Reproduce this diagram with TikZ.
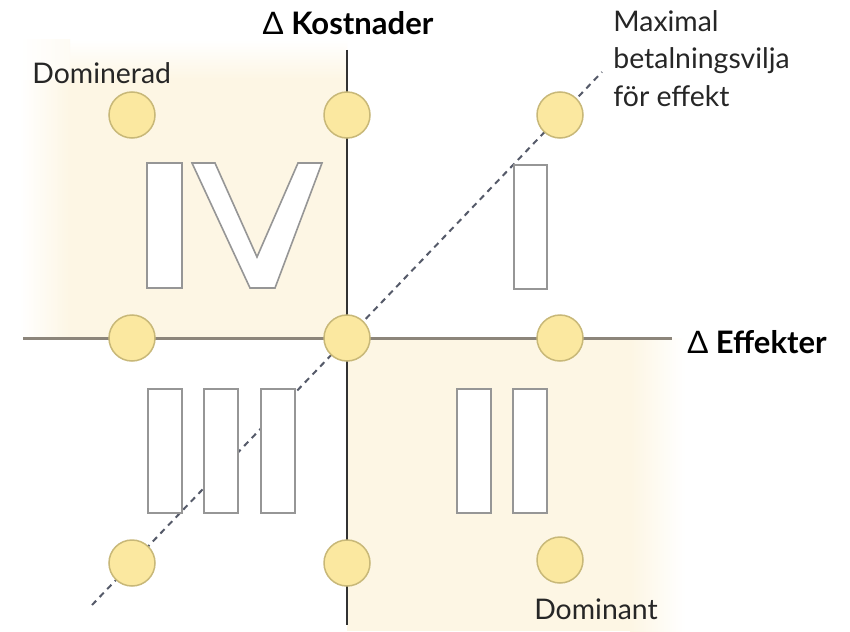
\documentclass[tikz,border=0pt]{standalone}
\usepackage{fontspec}
\setmainfont{Lato}
\definecolor{cream}{RGB}{253,246,228}
\definecolor{dotfill}{RGB}{251,232,160}
\definecolor{dotedge}{RGB}{200,184,120}
\definecolor{hax}{RGB}{140,133,122}
\definecolor{vax}{RGB}{50,50,50}
\definecolor{numedge}{RGB}{150,150,150}
\definecolor{dashcol}{RGB}{85,90,105}
\begin{document}
\begin{tikzpicture}[x=0.5pt,y=-0.5pt,
  dot/.style={circle,draw=dotedge,fill=dotfill,line width=0.75pt,minimum size=23pt,inner sep=0pt},
  numeral/.style={draw=numedge,fill=white,line width=0.8pt},
  lbl/.style={font=\fontsize{14.2}{18.75}\selectfont,text=black!85,inner sep=0pt},
  axlbl/.style={font=\fontsize{15.5}{19}\selectfont\bfseries,text=black,inner sep=0pt}]
\useasboundingbox (0,0) rectangle (850,631);
\fill[white] (0,0) rectangle (850,631);
% shaded quadrant IV
\fill[cream] (70,80) rectangle (347,338);
\shade[left color=white,right color=cream] (20,80) rectangle (70,338);
\shade[top color=white,bottom color=cream] (70,40) rectangle (347,80);
\shade[left color=white,right color=cream!40] (20,40) rectangle (70,80);
% shaded quadrant II
\fill[cream] (347,338) rectangle (630,631);
\shade[left color=cream,right color=white] (630,338) rectangle (685,631);
% axes
\coordinate (hl) at (23,338);
\coordinate (hr) at (672,338);
\coordinate (vt) at (347,50);
\coordinate (vb) at (347,625);
\draw[hax,line width=1.5pt] (hl) -- (hr);
\draw[vax,line width=0.9pt] (vt) -- (vb);
% dashed willingness-to-pay line
\coordinate (dA) at (92,605);
\coordinate (dB) at (602,72);
\draw[dashcol,line width=1pt,dash pattern=on 3pt off 2.5pt] (dA) -- (dB);
% numerals
\draw[numeral] (147,163) rectangle (182,288);
\draw[numeral] (192,163) -- (215,163) -- (257,257) -- (298,163) -- (322,163) -- (275,288) -- (250,288) -- cycle;
\draw[numeral] (514,165) rectangle (547,289);
\draw[numeral] (148,389) rectangle (182,513);
\draw[numeral] (204,389) rectangle (238,513);
\draw[numeral] (261,389) rectangle (295,513);
\draw[numeral] (457,389) rectangle (491,513);
\draw[numeral] (513,389) rectangle (547,513);
% dots
\node[dot] (p11) at (132,115) {};
\node[dot] (p12) at (347,115) {};
\node[dot] (p13) at (560,115) {};
\node[dot] (p21) at (132,338) {};
\node[dot] (p22) at (347,338) {};
\node[dot] (p23) at (560,338) {};
\node[dot] (p31) at (132,563) {};
\node[dot] (p32) at (347,563) {};
\node[dot] (p33) at (560,560) {};
% labels
\node[axlbl] (kost) at (348,23) {{\mdseries Δ} Kostnader};
\node[axlbl,anchor=west] (eff) at (687,342) {{\mdseries Δ} Effekter};
\node[lbl,anchor=west] (dom) at (32,73) {Dominerad};
\node[lbl,anchor=north] (dnt) at (596,598) {Dominant};
\node[lbl,anchor=north west,align=left] (maxb) at (613,10) {Maximal\\betalningsvilja\\för effekt};
\end{tikzpicture}
\end{document}
